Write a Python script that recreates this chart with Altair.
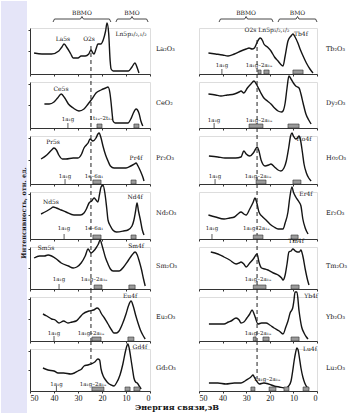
import altair as alt
import pandas as pd

LEFT_NAMES = ["La₂O₃", "CeO₂", "Pr₂O₃", "Nd₂O₃", "Sm₂O₃", "Eu₂O₃", "Gd₂O₃"]
RIGHT_NAMES = ["Tb₂O₃", "Dy₂O₃", "Ho₂O₃", "Er₂O₃", "Tm₂O₃", "Yb₂O₃", "Lu₂O₃"]
TICKS = [50, 40, 30, 20, 10, 0]

# ---- spectra: binding energy (eV) and intensity (arb. units) ----
E_LA = [48.3, 45, 41, 38, 36.7, 35.8, 34.5, 33, 32, 30, 28.7, 27, 25.5, 24.6, 23.8, 23.3, 22.5, 21.7, 20.5, 19.5, 18.5, 17.9, 17.2, 16.6, 16.2, 15.3, 12, 9, 7.5, 6.3, 5.3, 4.6]
I_LA = [21, 20, 20, 23, 27, 30, 26, 20, 16, 16, 18, 18, 20, 24, 21, 20, 25, 30, 30, 34, 43, 51, 40, 13, 5, 3, 3, 3, 7, 11, 6, 1]
E_CE = [44, 42, 40, 38.5, 37, 35.5, 34, 32, 29.6, 27.5, 25.8, 24.2, 22.5, 20.4, 18.5, 17.5, 16.7, 16.2, 15.8, 15.4, 14.5, 12, 9.2, 8, 7.1, 5.8, 4.5, 3.8, 3]
I_CE = [24, 24, 26, 30, 34, 30, 24, 20, 17, 19, 24, 29, 35, 38, 40, 41, 35, 25, 15, 7, 5, 5, 5, 9, 14, 19, 14, 7, 2]
E_PR = [45.4, 43, 41, 40, 39, 38, 36.5, 35, 32, 30, 28.5, 27.5, 26.5, 25.8, 25, 23.8, 22.5, 21.7, 21.2, 20.4, 19.6, 18.5, 17.5, 16.5, 15, 12, 10, 8, 6.5, 5.8, 5, 4, 3, 2.5]
I_PR = [25, 29, 34, 36, 34, 29, 25, 25, 26, 26, 30, 36, 39, 41, 45, 43, 46, 50, 51, 46, 38, 29, 23, 18, 16, 16, 16, 18, 20, 21, 18, 13, 7, 3]
E_ND = [45.4, 43, 41, 40.4, 39, 37, 35, 31.7, 29, 27.5, 26.5, 25.4, 24.3, 23.3, 22.5, 21.7, 21, 20.4, 19.6, 18.8, 18, 17.5, 16.5, 15.5, 14, 11, 9.2, 7.5, 6.7, 6, 5.4, 4.8, 4, 3.2, 2.5]
I_ND = [25, 28, 31, 32, 31, 29, 27, 24, 24, 26, 30, 36, 38, 41, 39, 37, 45, 52, 54, 46, 30, 19, 13, 9, 7, 8, 9, 13, 19, 28, 36, 28, 19, 9, 4]
E_SM = [48.3, 46, 44, 42.5, 41, 39, 37, 34, 32, 30.5, 28.7, 27, 25.8, 24.6, 23.5, 22.5, 21.5, 20.8, 19.8, 18.5, 17.5, 16.5, 15.4, 12.9, 11, 9.2, 7.5, 6.2, 5.3, 4.5, 3.5, 2.7, 2]
I_SM = [31, 33, 33, 34, 33, 30, 26, 23, 21, 22, 26, 33, 40, 36, 38, 41, 45, 49, 42, 31, 25, 20, 18, 18, 22, 28, 34, 37, 34, 28, 19, 10, 3]
E_EU = [44.6, 43, 41, 39.5, 37.9, 36, 34.2, 32.5, 30.8, 29.5, 28, 25.4, 23.5, 22, 21, 20.4, 19, 17.5, 16, 15, 14, 12.9, 11.5, 10, 9, 7.9, 7, 6, 5, 4, 3, 2]
I_EU = [27, 25, 22, 21, 18, 20, 18, 19, 20, 23, 27, 30, 31, 33, 31, 28, 23, 17, 11, 8, 8, 10, 17, 27, 35, 40, 35, 26, 18, 11, 6, 2]
E_GD = [44.6, 42.5, 40, 38.3, 36, 33, 31.5, 30, 28.5, 27.5, 26, 24.6, 23, 21.7, 21, 20.4, 19.5, 18.5, 17.5, 16.2, 15, 14, 12.5, 11.3, 10.2, 9.5, 9.2, 8.6, 8, 7.3, 6.7, 6, 5.3, 4.5, 3.7]
I_GD = [23, 21, 20, 18, 18, 17, 18, 20, 22, 25, 26, 27, 29, 32, 31, 22, 15, 11, 8, 6, 5, 8, 16, 27, 40, 46, 47, 42, 33, 22, 13, 9, 8, 5, 2]

E_TB = [46, 43, 40, 37.7, 35, 32.2, 30, 28.8, 27.5, 26.5, 25.5, 24.6, 24, 23, 22.5, 21, 19.5, 18, 16.5, 15.5, 14.4, 13.5, 12.3, 11, 10.2, 9.3, 8.1, 7, 5.9, 4.5, 3, 1.7]
I_TB = [21, 20, 19, 18, 20, 23, 25, 26, 25, 26, 31, 35, 36, 33, 30, 27, 23, 17, 13, 10, 8, 18, 33, 38, 40, 37, 31, 24, 18, 11, 5, 1]
E_DY = [46, 43, 40.7, 38, 35, 33, 32.2, 31, 29.5, 28, 26.7, 25.5, 24, 22.5, 21, 19.5, 18, 16.5, 15, 14.4, 13.5, 12.7, 11.9, 11, 10, 9, 7.6, 6.8, 5.9, 4.7, 3.5, 2.5]
I_DY = [34, 33, 32, 33, 34, 36, 37, 35, 40, 44, 47, 43, 36, 30, 27, 24, 20, 17, 16, 17, 25, 40, 52, 49, 45, 42, 40, 34, 25, 14, 8, 4]
E_HO = [45.8, 42, 39, 37.3, 34.5, 32.2, 31, 30, 28.5, 27, 26, 25.4, 24.6, 23.7, 22, 20.5, 19.5, 18, 16.5, 15.3, 14, 13, 12, 11.2, 10.6, 10, 9, 8.3, 7.6, 7, 6.2, 5.5, 4.5, 3.5, 2.5]
I_HO = [28, 27, 26, 26, 26, 27, 33, 30, 28, 31, 35, 37, 33, 24, 18, 19, 20, 17, 14, 13, 16, 23, 36, 48, 51, 48, 45, 46, 48, 44, 32, 20, 11, 6, 3]
E_ER = [46, 43, 39.4, 37, 35, 33.5, 32.2, 31, 30, 28.5, 27, 26.3, 25.5, 24.6, 23, 21.6, 20, 18.2, 16.5, 14.4, 13.5, 12.3, 11.5, 10.6, 10, 9, 7.6, 6.8, 6, 5, 3.8]
I_ER = [24, 22, 20, 21, 22, 25, 27, 25, 24, 30, 37, 41, 36, 27, 22, 19, 15, 12, 10, 10, 16, 27, 42, 52, 47, 42, 37, 33, 20, 11, 5]
E_TM = [45, 42, 39.4, 37, 34.3, 33, 32.2, 31, 30, 28.5, 27, 25.4, 24.6, 23.5, 22, 20.8, 18.5, 16.5, 15, 14.4, 13.5, 12.7, 11.9, 11, 10.2, 9.2, 8.3, 7.5, 6.8, 6, 5, 4, 3.4]
I_TM = [37, 35, 32, 29, 25, 26, 27, 25, 22, 26, 30, 35, 27, 21, 20, 19, 16, 14, 11, 9, 14, 25, 37, 38, 40, 38, 37, 37, 39, 33, 20, 9, 4]
E_YB = [45.8, 42, 39.4, 37.5, 36.4, 34.3, 33, 32.2, 31, 29.7, 28.5, 27.5, 26.5, 25, 23.5, 21.6, 20, 18.2, 16, 14.4, 13.2, 12.3, 11.4, 10.3, 9.8, 9.3, 8.5, 7.6, 6.5, 5.5, 4.5, 3.8]
I_YB = [17, 17, 17, 19, 20, 23, 21, 18, 19, 23, 27, 31, 26, 17, 18, 18, 16, 13, 10, 7, 14, 20, 28, 33, 40, 49, 49, 30, 14, 8, 4, 2]
E_LU = [45.8, 42, 38.6, 35, 32.2, 30.5, 29.2, 28, 27.1, 26.4, 25.6, 24.5, 22.5, 20.5, 18.2, 16, 13.1, 12, 11, 10.3, 9.7, 9.1, 8.5, 8, 7.5, 6.8, 6, 5.2, 4.3, 3.4]
I_LU = [8, 8, 7, 8, 8, 10, 12, 14, 16, 13, 10, 7, 8, 7, 5, 4, 3, 5, 10, 20, 30, 38, 43, 41, 34, 23, 14, 8, 4, 2]

# ---- peak labels (text, energy, intensity) ----
PEAK_TEXT_L = [["La5s", "O2s", "Ln5p₃/₂,₁/₂"], ["Ce5s"], ["Pr5s", "Pr4f"], ["Nd5s", "Nd4f"], ["Sm5s", "Sm4f"], ["Eu4f"], ["Gd4f"]]
PEAK_E_L = [[36.3, 25.4, 7.9], [37.1], [40.4, 5.8], [41.3, 6.2], [43.3, 5.8], [8.3], [4.2]]
PEAK_I_L = [[35, 35, 40], [39], [42, 26], [37, 42], [41, 43], [45], [44]]
PEAK_TEXT_R = [["O2s Ln5p₃/₂,₁/₂", "Tb4f"], [], ["Ho4f"], ["Er4f"], ["Tm4f"], ["Yb4f"], ["Lu4f"]]
PEAK_E_R = [[21.2, 6.8], [], [5.5], [4.7], [8.9], [2.5], [3.0]]
PEAK_I_R = [[44, 40], [], [45], [45], [48], [45], [42]]

# ---- MO level labels ----
A1G = "1a₁g"
A1G2 = "1a₁g–2a₁ᵤ"
LEVEL_TEXT_L = [[], [A1G, "1t₁ᵤ–2t₁ᵤ"], [A1G, "1e–6a₁"], [A1G, "1e–6a₁"], [A1G, A1G2], [A1G, A1G2], [A1G, A1G2]]
LEVEL_E_L = [[], [34.2, 20.4], [35.4, 23.3], [35.8, 23.3], [37.9, 23.3], [40.0, 24.6], [39.0, 23.8]]
LEVEL_I_L = [[], [9, 10], [8, 8], [11, 11], [10, 10], [8, 8], [7, 7]]
LEVEL_TEXT_R = [[A1G, A1G2], [A1G, A1G2], [A1G, A1G2], [A1G, A1G2], [A1G2], [A1G2], [A1G2]]
LEVEL_E_R = [[40.3, 24.6], [43.6, 24.6], [43.2, 25.0], [44.5, 25.8], [25.0], [25.0], [21.2]]
LEVEL_I_R = [[9, 9], [8, 8], [8, 8], [11, 11], [10], [8], [12]]

# ---- calculated level groups (energy ranges) ----
BOX_FROM_L = [[], [22.1, 6.7], [23.8, 7.9], [23.8, 7.9], [23.3, 8.8], [24.2, 9.2], [24.2, 10.4, 6.7]]
BOX_TO_L = [[], [20.0, 4.6], [20.4, 5.8], [20.4, 5.8], [20.0, 6.2], [20.4, 6.7], [19.2, 8.3, 4.2]]
BOX_FROM_R = [[25.0, 22.5, 10.2], [28.8, 12.3], [25.8, 10.2], [27.0, 11.0], [27.0, 11.0], [27.0, 22.9, 11.0], [28.0, 20.3, 14.0, 5.9]]
BOX_TO_R = [[23.7, 20.3, 5.9], [22.9, 7.6], [21.6, 6.8], [22.9, 8.0], [21.6, 7.6], [25.8, 20.3, 7.6], [26.3, 17.4, 11.9, 3.4]]

DASH_E_L = 24.6
DASH_E_R = 25.4

BRACE_TEXT = ["ВВМО", "ВМО"]
BRACE_FROM_L = [40.4, 14.2]
BRACE_TO_L = [16.3, 0.8]
BRACE_FROM_R = [41.5, 16.5]
BRACE_TO_R = [18.6, 0.0]

Y_TITLE = "Интенсивность, отн. ед."
X_TITLE = "Энергия связи,эВ"

SPEC_L = [(E_LA, I_LA), (E_CE, I_CE), (E_PR, I_PR), (E_ND, I_ND), (E_SM, I_SM), (E_EU, I_EU), (E_GD, I_GD)]
SPEC_R = [(E_TB, I_TB), (E_DY, I_DY), (E_HO, I_HO), (E_ER, I_ER), (E_TM, I_TM), (E_YB, I_YB), (E_LU, I_LU)]

H = [46, 46, 48, 47, 42, 44, 42]
SP = 8
WL, WR = 120, 118
FONT = "DejaVu Serif"
INK = "#151515"


def brace_df(froms, tos, lvl):
    rows = []
    for g, (a, b) in enumerate(zip(froms, tos)):
        m = (a + b) / 2
        pts = [(a, lvl - 3), (a - 0.6, lvl), (m + 0.6, lvl), (m, lvl + 2.5), (m - 0.6, lvl), (b + 0.6, lvl), (b, lvl - 3)]
        for k, (e, v) in enumerate(pts):
            rows.append({"E": e, "I": v, "g": g, "k": k})
    return pd.DataFrame(rows)


def panel(i, side):
    left = side == "L"
    h = H[i]
    w = WL if left else WR
    bottom = i == len(H) - 1
    es, ints = (SPEC_L if left else SPEC_R)[i]
    name = (LEFT_NAMES if left else RIGHT_NAMES)[i]

    xs = alt.Scale(domain=[50, 0], nice=False, zero=False)
    xax = alt.Axis(values=TICKS, labels=bottom, tickSize=2, grid=False, title=None,
                   domainColor="#333", tickColor="#333", labelFont="Liberation Serif",
                   labelFontSize=8, labelColor="#111", labelPadding=1, format="d")
    X = alt.X("E:Q", scale=xs, axis=xax)
    ys = alt.Scale(domain=[0, h], nice=False, zero=False)
    if left:
        yax = alt.Axis(values=[round(h * 0.5), h - 2], labels=False, tickSize=2, grid=False,
                       title=None, domainColor="#333", tickColor="#333")
    else:
        yax = None
    Y = alt.Y("I:Q", scale=ys, axis=yax)

    layers = []
    if i == 0 and left:
        layers.append(alt.Chart(pd.DataFrame({"a": [0]})).mark_rect(color="#e5e5f8").encode(
            x=alt.value(-29), x2=alt.value(-3), y=alt.value(-27), y2=alt.value(386)))

    layers.append(alt.Chart(pd.DataFrame({"E": es, "I": ints})).mark_line(
        color=INK, strokeWidth=1.4, interpolate="monotone", clip=False).encode(x=X, y=Y))

    if i == 0:
        y_top = 18 if left else 12
    else:
        y_top = -SP
    if bottom:
        y_bot = 14 if left else 30
    else:
        y_bot = h
    layers.append(alt.Chart(pd.DataFrame({"E": [DASH_E_L if left else DASH_E_R]})).mark_rule(
        color="#222", strokeWidth=1, strokeDash=[4, 3]).encode(x=X, y=alt.value(y_top), y2=alt.value(y_bot)))

    bf = (BOX_FROM_L if left else BOX_FROM_R)[i]
    bt = (BOX_TO_L if left else BOX_TO_R)[i]
    if bf:
        layers.append(alt.Chart(pd.DataFrame({"E": bf, "E2": bt})).mark_rect(
            fill="#9a9a9a", stroke="#333", strokeWidth=0.6).encode(
            x=X, x2="E2:Q", y=alt.value(h - 4), y2=alt.value(h)))

    lt = (LEVEL_TEXT_L if left else LEVEL_TEXT_R)[i]
    le = (LEVEL_E_L if left else LEVEL_E_R)[i]
    li = (LEVEL_I_L if left else LEVEL_I_R)[i]
    if lt:
        ldf = pd.DataFrame({"t": lt, "E": le, "I": li})
        layers.append(alt.Chart(ldf).mark_text(font=FONT, fontSize=5.5, color=INK).encode(
            x=X, y=Y, text="t:N"))
        tick_df = ldf[ldf["t"] == A1G]
        if len(tick_df):
            layers.append(alt.Chart(tick_df).mark_rule(color="#333", strokeWidth=0.8).encode(
                x=X, y=alt.value(h - 5), y2=alt.value(h)))

    pt = (PEAK_TEXT_L if left else PEAK_TEXT_R)[i]
    pe = (PEAK_E_L if left else PEAK_E_R)[i]
    pi = (PEAK_I_L if left else PEAK_I_R)[i]
    if pt:
        layers.append(alt.Chart(pd.DataFrame({"t": pt, "E": pe, "I": pi})).mark_text(
            font=FONT, fontSize=6, color=INK).encode(x=X, y=Y, text="t:N"))

    layers.append(alt.Chart(pd.DataFrame({"t": [name]})).mark_text(
        font=FONT, fontSize=6.5, color=INK, align="left", baseline="middle").encode(
        x=alt.value(w + (6 if left else 9)), y=alt.value(h * 0.45), text="t:N"))

    if i == 0:
        fr = BRACE_FROM_L if left else BRACE_FROM_R
        to = BRACE_TO_L if left else BRACE_TO_R
        layers.append(alt.Chart(brace_df(fr, to, 55)).mark_line(color="#333", strokeWidth=0.9, clip=False).encode(
            x=X, y=Y, detail="g:N", order="k:Q"))
        mids = [(a + b) / 2 for a, b in zip(fr, to)]
        layers.append(alt.Chart(pd.DataFrame({"t": BRACE_TEXT, "E": mids, "I": [61, 61]})).mark_text(
            font=FONT, fontSize=6, color=INK).encode(x=X, y=Y, text="t:N"))

    if i == 3 and left:
        layers.append(alt.Chart(pd.DataFrame({"t": [Y_TITLE]})).mark_text(
            font=FONT, fontSize=6.5, fontWeight="bold", color=INK, angle=270).encode(
            x=alt.value(-6), y=alt.value(21), text="t:N"))
    if bottom and left:
        layers.append(alt.Chart(pd.DataFrame({"t": [X_TITLE]})).mark_text(
            font=FONT, fontSize=8, fontWeight="bold", color=INK).encode(
            x=alt.value(147), y=alt.value(59), text="t:N"))

    return alt.layer(*layers).properties(width=w, height=h)


panels = []
for i in range(len(H)):
    panels.append(panel(i, "L"))
    panels.append(panel(i, "R"))

chart = alt.concat(*panels, columns=2, spacing={"row": SP, "column": 49}, bounds="flush").properties(
    padding=0).configure_view(stroke=None).configure(background="white")

chart.save("out.html", embed_options={"renderer": "svg", "actions": False})
